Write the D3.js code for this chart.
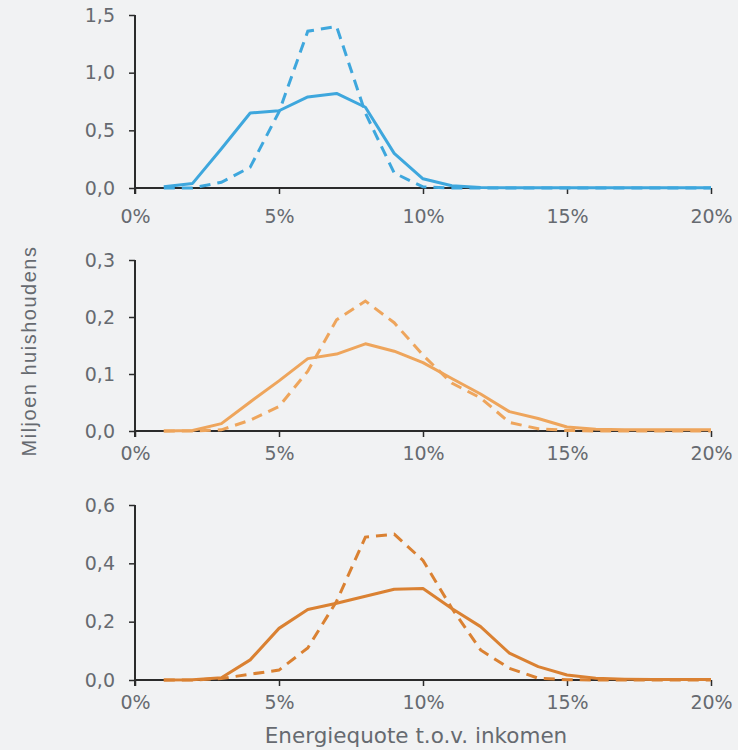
<!DOCTYPE html>
<html>
<head>
<meta charset="utf-8">
<script src="https://cdn.jsdelivr.net/npm/d3@7"></script>
<style>
  html, body { margin: 0; padding: 0; background: #f1f2f3; }
  svg { display: block; }
</style>
</head>
<body>
<svg id="chart" width="738" height="750"></svg>
<script>
// Data: x = energy quote (% of income), y = million households
const xValues = [1,2,3,4,5,6,7,8,9,10,11,12,13,14,15,16,17,18,19,20];

const p1Solid  = [0.01,0.04,0.34,0.65,0.67,0.79,0.82,0.70,0.30,0.08,0.02,0.005,0.003,0.002,0.002,0.002,0.002,0.002,0.002,0.002];
const p1Dashed = [0.00,0.00,0.05,0.18,0.66,1.36,1.40,0.65,0.13,0.01,0.00,0.00,0.00,0.00,0.00,0.00,0.00,0.00,0.00,0.00];

const p2Solid  = [0.000,0.001,0.013,0.051,0.088,0.127,0.135,0.153,0.140,0.120,0.092,0.065,0.034,0.022,0.007,0.003,0.002,0.002,0.002,0.002];
const p2Dashed = [0.000,0.000,0.002,0.019,0.043,0.105,0.195,0.228,0.190,0.133,0.084,0.058,0.015,0.004,0.001,0.000,0.000,0.000,0.000,0.000];

const p3Solid  = [0.000,0.001,0.008,0.069,0.177,0.242,0.263,0.287,0.311,0.314,0.245,0.183,0.092,0.046,0.017,0.006,0.003,0.002,0.002,0.002];
const p3Dashed = [0.000,0.000,0.005,0.020,0.034,0.110,0.270,0.490,0.500,0.410,0.246,0.103,0.040,0.006,0.001,0.000,0.000,0.000,0.000,0.000];

const xTicks = [0, 5, 10, 15, 20];
const p1Ticks = [0, 0.5, 1.0, 1.5];
const p2Ticks = [0, 0.1, 0.2, 0.3];
const p3Ticks = [0, 0.2, 0.4, 0.6];

const yTitle = "Miljoen huishoudens";
const xTitle = "Energiequote t.o.v. inkomen";

const panels = [
  { solid: p1Solid, dashed: p1Dashed, ticks: p1Ticks, max: 1.5, color: "#3ea7dd", y0: 188, y1: 15, pad: 16 },
  { solid: p2Solid, dashed: p2Dashed, ticks: p2Ticks, max: 0.3, color: "#eea55c", y0: 431, y1: 260, pad: 10 },
  { solid: p3Solid, dashed: p3Dashed, ticks: p3Ticks, max: 0.6, color: "#da8132", y0: 680, y1: 505, pad: 10 }
];

const svg = d3.select("#chart");
const x = d3.scaleLinear().domain([0, 20]).range([135, 711]);
const fmtY = d => d.toFixed(1).replace(".", ",");
const fmtX = d => d + "%";

const axisColor = "#2b2b2b";
const textColor = "#666a70";
const font = "DejaVu Sans, Verdana, sans-serif";

panels.forEach(p => {
  const y = d3.scaleLinear().domain([0, p.max]).range([p.y0, p.y1]);
  const g = svg.append("g");

  const ya = g.append("g")
    .attr("transform", `translate(${x(0)},0)`)
    .call(d3.axisLeft(y).tickValues(p.ticks).tickFormat(fmtY).tickSize(6).tickPadding(14));
  const xa = g.append("g")
    .attr("transform", `translate(0,${p.y0})`)
    .call(d3.axisBottom(x).tickValues(xTicks).tickFormat(fmtX).tickSize(6).tickPadding(p.pad));

  [ya, xa].forEach(a => {
    a.select(".domain").remove();
    a.selectAll(".tick line").attr("stroke", axisColor).attr("stroke-width", 1.5);
    a.selectAll(".tick text").attr("fill", textColor).style("font-family", font).style("font-size", "19px");
  });
  g.append("line").attr("x1", x(0)).attr("x2", x(0)).attr("y1", p.y0 + 6).attr("y2", p.y1)
    .attr("stroke", axisColor).attr("stroke-width", 2);
  g.append("line").attr("x1", x(0)).attr("x2", x(20)).attr("y1", p.y0).attr("y2", p.y0)
    .attr("stroke", axisColor).attr("stroke-width", 2);

  const line = d3.line().x((d, i) => x(xValues[i])).y(d => y(d));

  g.append("path").datum(p.dashed)
    .attr("d", line).attr("fill", "none")
    .attr("stroke", p.color).attr("stroke-width", 3)
    .attr("stroke-dasharray", "11,7");
  g.append("path").datum(p.solid)
    .attr("d", line).attr("fill", "none")
    .attr("stroke", p.color).attr("stroke-width", 3)
    .attr("stroke-linejoin", "round");
});

svg.append("text")
  .attr("transform", "translate(36,351) rotate(-90)")
  .attr("text-anchor", "middle")
  .attr("fill", textColor)
  .style("font-family", "Liberation Sans, Arial, sans-serif")
  .style("font-size", "20px")
  .style("letter-spacing", "1.5px")
  .text(yTitle);

svg.append("text")
  .attr("x", 416).attr("y", 743)
  .attr("text-anchor", "middle")
  .attr("fill", textColor)
  .style("font-family", font)
  .style("font-size", "21.5px")
  .text(xTitle);
</script>
</body>
</html>
